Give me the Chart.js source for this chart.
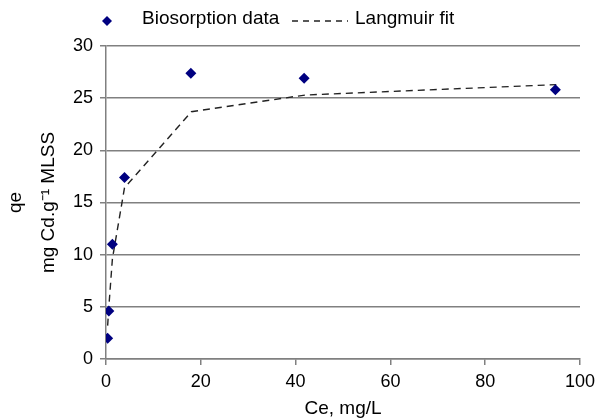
<!DOCTYPE html>
<html>
<head>
<meta charset="utf-8">
<title>Biosorption isotherm</title>
<script src="https://cdn.jsdelivr.net/npm/chart.js@4.4.1/dist/chart.umd.min.js"></script>
<style>
  html, body { margin: 0; padding: 0; background: #fff; }
  #wrap { width: 608px; height: 418px; }
</style>
</head>
<body>
<div id="wrap"><canvas id="myChart" width="608" height="418"></canvas></div>
<script>
// Data
const ceValues = [0.35, 0.6, 1.35, 3.9, 17.9, 41.8, 94.8];
const qeValues = [2.0, 4.6, 11.0, 17.4, 27.4, 26.9, 25.8];

// Langmuir fit (dashed line)
const fitCe = [0.35, 0.6, 1.35, 3.9, 18, 42, 95];
const fitQe = [3.2, 5.0, 9.6, 16.4, 23.7, 25.3, 26.3];

const xTicks = [0, 20, 40, 60, 80, 100];
const yTicks = [0, 5, 10, 15, 20, 25, 30];

const seriesNames = ['Biosorption data', 'Langmuir fit'];

const FONT = '"Liberation Sans", Arial, sans-serif';
const gridColor = '#808080';

// build x/y point objects for scatter
let dataPoints = ceValues.map((c, i) => ({ x: c, y: qeValues[i] }));
let fitPoints = fitCe.map((c, i) => ({ x: c, y: fitQe[i] }));

// simple legend drawn across the top, like the original
const topLegend = {
  id: 'topLegend',
  afterDraw(chart) {
    const ctx = chart.ctx;
    ctx.save();
    // diamond marker
    const dx = 107, dy = 21, r = 5;
    ctx.fillStyle = '#000080';
    ctx.beginPath();
    ctx.moveTo(dx - r, dy);
    ctx.lineTo(dx, dy - r);
    ctx.lineTo(dx + r, dy);
    ctx.lineTo(dx, dy + r);
    ctx.closePath();
    ctx.fill();

    ctx.font = '19px ' + FONT;
    ctx.fillStyle = '#000';
    ctx.textBaseline = 'middle';
    ctx.fillText(seriesNames[0], 142, 19);

    // dashed sample
    ctx.strokeStyle = '#222';
    ctx.lineWidth = 1.3;
    ctx.setLineDash([6, 5]);
    ctx.beginPath();
    ctx.moveTo(292, 21);
    ctx.lineTo(348, 21);
    ctx.stroke();
    ctx.setLineDash([]);

    ctx.fillText(seriesNames[1], 355, 19);
    ctx.restore();
  }
};

const myChart = document.getElementById('myChart');

let isoChart = new Chart(myChart, {
  type: 'scatter',
  data: {
    datasets: [
      {
        label: seriesNames[0],
        data: dataPoints,
        pointStyle: 'rectRot',
        pointRadius: 5.5,
        pointBackgroundColor: '#000080',
        pointBorderColor: '#000080',
        pointBorderWidth: 0,
        showLine: false
      },
      {
        label: seriesNames[1],
        data: fitPoints,
        showLine: true,
        pointRadius: 0,
        borderColor: '#222',
        borderWidth: 1.4,
        borderDash: [7, 5],
        tension: 0,
        fill: false
      }
    ]
  },
  options: {
    responsive: false,
    animation: false,
    layout: { padding: { left: 0, top: 46, right: 28, bottom: 0 } },
    plugins: {
      legend: { display: false },
      tooltip: { enabled: false }
    },
    scales: {
      x: {
        type: 'linear',
        min: 0,
        max: 100,
        afterFit(scale) { scale.height = 59; },
        afterBuildTicks(scale) { scale.ticks = xTicks.map(v => ({ value: v })); },
        grid: {
          drawOnChartArea: false,
          drawTicks: true,
          tickLength: 6,
          color: gridColor,
          lineWidth: 1.5
        },
        border: { display: true, color: gridColor, width: 1.5 },
        ticks: {
          color: '#000',
          padding: 6,
          maxRotation: 0,
          font: { family: FONT, size: 18 }
        },
        title: {
          display: true,
          text: 'Ce, mg/L',
          color: '#000',
          padding: { top: 0, bottom: -1 },
          font: { family: FONT, size: 19, lineHeight: 1.1 }
        }
      },
      y: {
        type: 'linear',
        min: 0,
        max: 30,
        afterFit(scale) { scale.width = 106; },
        afterBuildTicks(scale) { scale.ticks = yTicks.map(v => ({ value: v })); },
        grid: {
          drawTicks: true,
          tickLength: 6,
          color: gridColor,
          lineWidth: 1.5
        },
        border: { display: true, color: gridColor, width: 1.5 },
        ticks: {
          color: '#000',
          padding: 7,
          font: { family: FONT, size: 18 }
        },
        title: {
          display: true,
          text: ['qe', 'mg Cd.g\u207B\u00B9 MLSS'],
          color: '#000',
          padding: { top: -1, bottom: 0 },
          font: { family: FONT, size: 19, lineHeight: 1.74 }
        }
      }
    }
  },
  plugins: [topLegend]
});

console.log(isoChart.chartArea);
</script>
</body>
</html>
